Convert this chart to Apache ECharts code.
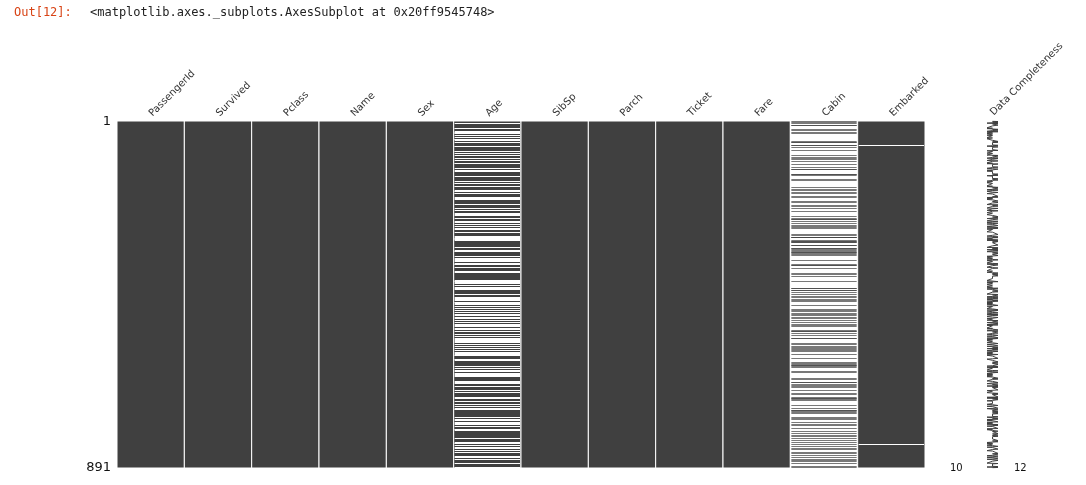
<!DOCTYPE html>
<html><head><meta charset="utf-8">
<script src="https://cdn.jsdelivr.net/npm/echarts@6/dist/echarts.min.js"></script>
<style>html,body{margin:0;background:#fff}#c{width:1086px;height:485px}</style>
</head><body><div id="c"></div>
<script>
const columns = ["PassengerId","Survived","Pclass","Name","Sex","Age","SibSp","Parch","Ticket","Fare","Cabin","Embarked"];
const nRows = 891;
const rowTicks = [1, 891];
const completenessTicks = ["10", "12"];
// estimated rows with missing Age
const ageMissing = [6,18,20,27,29,30,32,33,37,43,46,47,48,49,56,65,66,77,78,83,88,96,102,108,110,122,127,129,141,155,159,160,167,169,177,181,182,186,187,197,199,202,215,224,230,236,241,242,251,257,261,265,271,275,278,285,296,299,301,302,304,305,307,325,331,335,336,348,352,355,359,360,365,368,369,376,385,389,410,411,412,414,416,421,426,429,432,445,452,455,458,460,465,467,469,471,476,482,486,491,496,498,503,508,512,518,523,525,528,532,534,539,548,553,558,561,564,565,569,574,579,585,590,594,597,599,602,603,612,613,614,630,634,640,644,649,651,654,657,668,670,675,681,693,698,710,712,719,728,733,739,740,741,761,767,769,774,777,779,784,791,793,794,816,826,827,829,833,838,840,847,850,860,864,869,879,889];
// estimated rows where Cabin is present
const cabinPresent = [2,4,7,11,12,22,24,28,32,53,55,56,62,63,67,76,89,93,97,98,103,111,119,124,125,137,138,140,149,152,171,175,178,184,186,194,196,206,210,216,219,225,231,246,249,252,253,258,263,269,270,274,276,292,293,298,299,300,306,308,310,311,312,319,320,326,328,330,333,335,337,338,341,342,346,357,367,370,371,378,391,394,398,413,430,431,435,436,439,446,450,453,457,461,463,474,485,487,488,493,497,499,505,506,513,517,521,524,528,537,540,541,545,551,557,559,572,573,578,582,584,586,588,592,600,610,619,622,626,627,628,631,633,642,646,661,663,670,672,676,680,682,684,691,700,702,709,711,713,716,717,731,738,742,743,746,749,752,760,764,766,773,780,782,790,797,803,807,810,816,821,824,830,836,840,843,850,854,858,863,868,872,873,880,888,890];
const embarkedMissing = [62, 830];

const ageIdx = columns.indexOf("Age"), cabinIdx = columns.indexOf("Cabin"), embIdx = columns.indexOf("Embarked");
const cabinSet = new Set(cabinPresent), ageSet = new Set(ageMissing), embSet = new Set(embarkedMissing);
const colBlocks = columns.map((c, i) => [i, i === cabinIdx ? 0 : 1]);
const minorityCells = [];
ageMissing.forEach(r => minorityCells.push([ageIdx, r, 0]));
cabinPresent.forEach(r => minorityCells.push([cabinIdx, r, 1]));
embarkedMissing.forEach(r => minorityCells.push([embIdx, r, 0]));

const completeness = [];
for (let r = 1; r <= nRows; r++) {
  const c = columns.length - (ageSet.has(r)?1:0) - (cabinSet.has(r)?0:1) - (embSet.has(r)?1:0);
  completeness.push([c, r]);
}

const chart = echarts.init(document.getElementById('c'), null, {renderer:'canvas'});
chart.setOption({
  animation:false,
  grid:[{left:117,top:121,width:808,height:347},{left:987,top:121,width:11,height:347}],
  xAxis:[{type:'category',gridIndex:0,data:columns,position:'top',
    axisLine:{show:false},axisTick:{show:false},
    axisLabel:{rotate:-45,color:'#333',fontSize:10,fontFamily:'DejaVu Sans',margin:6}},
    {type:'value',gridIndex:1,min:10,max:12,show:false}],
  yAxis:[{type:'value',gridIndex:0,min:0.5,max:891.5,inverse:true,
    axisLine:{show:false},splitLine:{show:false},axisTick:{show:false},
    axisLabel:{customValues:rowTicks,color:'#111',fontSize:13,fontFamily:'DejaVu Sans',margin:6}},
    {type:'value',gridIndex:1,min:0.5,max:891.5,inverse:true,show:false}],
  series:[
    {type:'custom',xAxisIndex:0,yAxisIndex:0,data:colBlocks,
     renderItem:(p,api)=>{const a=api.coord([api.value(0),0.5]);const b=api.coord([api.value(0),891.5]);const w=api.size([1,0])[0];
       return {type:'rect',shape:{x:a[0]-w/2,y:a[1],width:w,height:b[1]-a[1]},style:{fill:api.value(1)?'#404040':'#fff',stroke:'#fff',lineWidth:1}};}},
    {type:'custom',xAxisIndex:0,yAxisIndex:0,data:minorityCells,
     renderItem:(p,api)=>{const c=api.coord([api.value(0),api.value(1)-0.5]);const s=api.size([1,1]);const dark=api.value(2);
       return {type:'rect',shape:{x:c[0]-s[0]/2+1,y:Math.round(c[1]),width:s[0]-2,height:1},style:{fill:dark?'#404040':'#fff',opacity:dark?0.7:1}};}},
    {type:'line',xAxisIndex:1,yAxisIndex:1,data:completeness,showSymbol:false,lineStyle:{color:'#404040',width:1}}
  ],
  graphic:[
    {type:'text',left:14,top:7,style:{text:'Out[12]:',fill:'#d84315',font:'12px "DejaVu Sans Mono"'}},
    {type:'text',left:90,top:7,style:{text:'<matplotlib.axes._subplots.AxesSubplot at 0x20ff9545748>',fill:'#222',font:'12px "DejaVu Sans Mono"'}},
    {type:'text',left:950,top:463,style:{text:completenessTicks[0],fill:'#111',font:'10px "DejaVu Sans"'}},
    {type:'text',left:1014,top:463,style:{text:completenessTicks[1],fill:'#111',font:'10px "DejaVu Sans"'}},
    {type:'text',x:992,y:114,rotation:Math.PI/4,style:{text:'Data Completeness',fill:'#333',font:'10px "DejaVu Sans"',align:'left',verticalAlign:'middle'}}
  ]
});
</script></body></html>
